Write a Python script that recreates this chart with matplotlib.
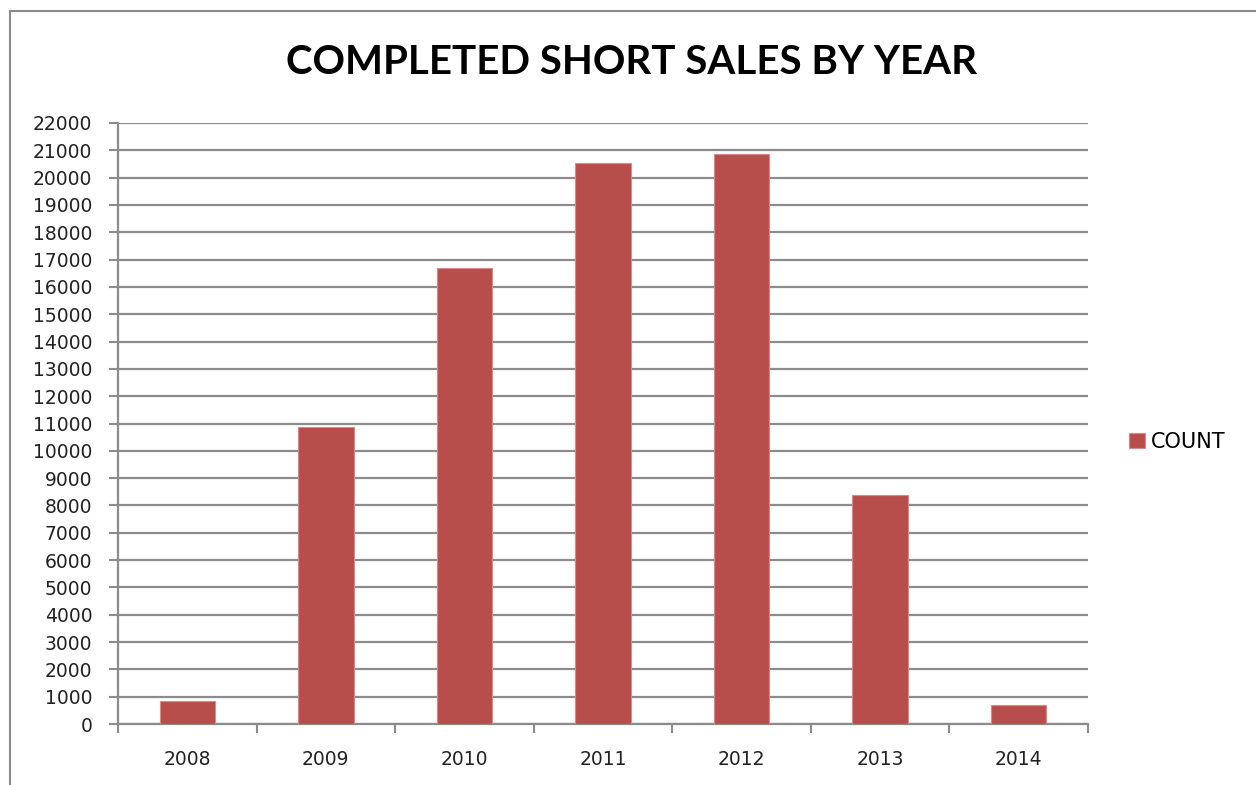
import matplotlib
matplotlib.use("Agg")
import matplotlib.pyplot as plt
from matplotlib.patches import Rectangle
import numpy as np

# data
years = ["2008", "2009", "2010", "2011", "2012", "2013", "2014"]
counts = [850, 10890, 16700, 20530, 20880, 8380, 700]
yticks = list(range(0, 22001, 1000))

bar_color = "#B84E4B"
grid_color = "#8C8C8C"

plt.rcParams["font.family"] = ["DejaVu Sans"]

fig = plt.figure(figsize=(12.56, 7.85), dpi=100)
ax = fig.add_axes([118 / 1256, 1 - 724 / 785, (1088 - 118) / 1256, (724 - 123) / 785])

x = np.arange(len(years))
ax.bar(x, counts, width=0.4, color=bar_color, edgecolor="#D98A88", linewidth=0.8,
       label="COUNT", zorder=3)

ax.set_xlim(-0.5, len(years) - 0.5)
ax.set_ylim(0, 22000)
ax.set_yticks(yticks)
ax.set_yticklabels([str(v) for v in yticks], fontsize=13.5, color="#222222")
ax.set_xticks(x)
ax.set_xticklabels(years, fontsize=13.5, color="#222222")
ax.set_xticks(np.arange(-0.5, len(years), 1.0), minor=True)

ax.tick_params(axis="x", which="major", length=0, pad=19)
ax.tick_params(axis="x", which="minor", length=6.5, width=1.5, color=grid_color, direction="out")
ax.tick_params(axis="y", which="major", length=6.5, width=1.5, color=grid_color, direction="out", pad=12)

ax.grid(axis="y", color=grid_color, linewidth=1.6, zorder=0)
for side in ["top", "right"]:
    ax.spines[side].set_visible(False)
ax.spines["left"].set_color(grid_color)
ax.spines["left"].set_linewidth(1.6)
ax.spines["bottom"].set_color(grid_color)
ax.spines["bottom"].set_linewidth(1.6)

fig.text(632 / 1256, 1 - 62 / 785, "COMPLETED SHORT SALES BY YEAR", ha="center", va="center",
         fontsize=29, fontweight="bold", color="#000000", family=["Lato", "DejaVu Sans"])

leg = fig.legend(loc="center left", bbox_to_anchor=(1129 / 1256, 1 - 442 / 785), frameon=False,
                 fontsize=15, handlelength=0.75, handleheight=0.75, handletextpad=0.3,
                 borderpad=0, borderaxespad=0)

# outer chart border (cut at the right and bottom edges)
fig.patches.append(Rectangle((10 / 1256, -0.05), 1.1, 1 - 10.5 / 785 + 0.05, transform=fig.transFigure,
                             fill=False, edgecolor="#8A8A8A", linewidth=1.5))

fig.savefig("out.png", dpi=100)
